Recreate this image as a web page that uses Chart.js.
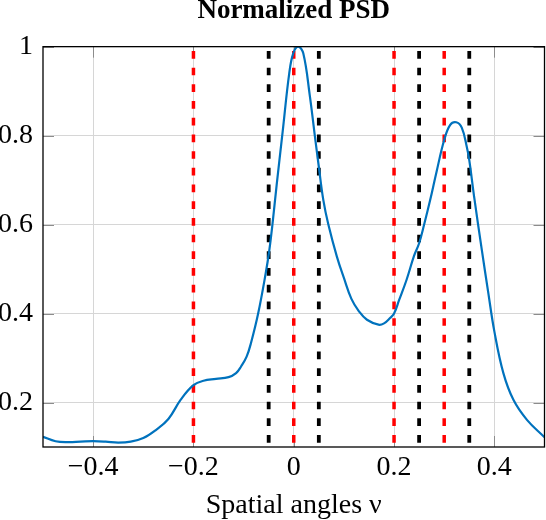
<!DOCTYPE html>
<html>
<head>
<meta charset="utf-8">
<script src="https://cdn.jsdelivr.net/npm/chart.js@4.4.1/dist/chart.umd.min.js"></script>
<style>
  html, body { margin: 0; padding: 0; background: #fff; }
  #wrap { width: 546px; height: 520px; }
</style>
</head>
<body>
<div id="wrap"><canvas id="psd"></canvas></div>
<script>
// Normalized PSD over spatial angle nu
const nu = [-0.5, -0.475, -0.45, -0.425, -0.4, -0.375, -0.35, -0.325, -0.3, -0.275, -0.25, -0.225, -0.2,
    -0.18, -0.155, -0.13, -0.115, -0.105, -0.094, -0.085, -0.071, -0.056, -0.049, -0.043,
    -0.034, -0.022, -0.009, -0.001, 0.009, 0.019, 0.032, 0.042, 0.05,
    0.059, 0.069, 0.086, 0.1, 0.115, 0.13, 0.146, 0.169, 0.18, 0.192, 0.2,
    0.21, 0.225, 0.24, 0.25, 0.26, 0.272, 0.285, 0.3,
    0.312, 0.324, 0.335, 0.345, 0.35, 0.36, 0.375, 0.388, 0.4,
    0.418, 0.438, 0.465, 0.5];
const psd = [0.123, 0.113, 0.111, 0.112, 0.113, 0.112, 0.110, 0.112, 0.120, 0.138, 0.163, 0.207, 0.239,
    0.249, 0.253, 0.257, 0.266, 0.281, 0.303, 0.335, 0.40, 0.49, 0.54, 0.595,
    0.69, 0.81, 0.94, 0.985, 1.0, 0.985, 0.89, 0.80, 0.73,
    0.655, 0.60, 0.528, 0.48, 0.433, 0.405, 0.386, 0.375, 0.378, 0.39, 0.40,
    0.43, 0.476, 0.53, 0.558, 0.60, 0.655, 0.72, 0.79,
    0.824, 0.83, 0.818, 0.775, 0.745, 0.66, 0.543, 0.446, 0.36,
    0.266, 0.206, 0.161, 0.122];

// vertical markers
const redLines = [-0.2, 0, 0.2, 0.3];
const blackLines = [-0.05, 0.05, 0.25, 0.35];

const xTicks = [-0.4, -0.2, 0, 0.2, 0.4];
const xTickLabels = ['\u22120.4', '\u22120.2', '0', '0.2', '0.4'];
const yTicks = [0.2, 0.4, 0.6, 0.8, 1];
const yTickLabels = ['0.2', '0.4', '0.6', '0.8', '1'];

const yMin = 0.1, yMax = 1;
const serif = 'Liberation Serif';

function markerSet(x, color, width) {
    return {
        data: [{ x: x, y: yMax }, { x: x, y: yMin }],
        borderColor: color,
        borderWidth: width,
        borderDash: [7.7, 9],
        borderDashOffset: 12.4,
        pointRadius: 0,
        tension: 0,
        fill: false
    };
}

// frame + small inner ticks like pgfplots
const framePlugin = {
    id: 'frame',
    beforeDatasetsDraw(chart) {
        const { ctx, chartArea: a, scales } = chart;
        ctx.save();
        ctx.strokeStyle = '#8c8c8c';
        ctx.lineWidth = 1;
        ctx.beginPath();
        xTicks.forEach(v => {
            const px = Math.round(scales.x.getPixelForValue(v)) + 0.5;
            ctx.moveTo(px, a.top); ctx.lineTo(px, a.top + 11);
            ctx.moveTo(px, a.bottom); ctx.lineTo(px, a.bottom - 11);
        });
        yTicks.forEach(v => {
            const py = Math.round(scales.y.getPixelForValue(v)) + 0.5;
            ctx.moveTo(a.left, py); ctx.lineTo(a.left + 11, py);
            ctx.moveTo(a.right, py); ctx.lineTo(a.right - 11, py);
        });
        ctx.stroke();
        ctx.restore();
    },
    afterDatasetsDraw(chart) {
        const { ctx, chartArea: a } = chart;
        ctx.save();
        ctx.strokeStyle = '#000';
        ctx.lineWidth = 1.3;
        ctx.strokeRect(a.left, a.top, a.right - a.left, a.bottom - a.top);
        ctx.restore();
    }
};

const datasets = [{
    data: nu.map((v, i) => ({ x: v, y: psd[i] })),
    borderColor: '#0072bd',
    borderWidth: 2.2,
    pointRadius: 0,
    tension: 0.4,
    fill: false
}];
redLines.forEach(x => datasets.push(markerSet(x, '#ff0000', 3.5)));
blackLines.forEach(x => datasets.push(markerSet(x, '#000000', 3.8)));

new Chart(document.getElementById('psd'), {
    type: 'line',
    data: { datasets: datasets },
    plugins: [framePlugin],
    options: {
        responsive: true,
        maintainAspectRatio: false,
        animation: false,
        layout: { padding: { top: 0, right: 1.5, bottom: 0, left: 0 } },
        plugins: {
            legend: { display: false },
            tooltip: { enabled: false },
            title: {
                display: true,
                fullSize: false,
                text: 'Normalized PSD',
                color: '#000',
                font: { family: serif, size: 27, weight: 'bold', lineHeight: 0.85 },
                padding: { top: 0, bottom: 23.7 }
            }
        },
        scales: {
            x: {
                type: 'linear',
                min: -0.5,
                max: 0.5,
                afterBuildTicks: s => { s.ticks = xTicks.map(v => ({ value: v })); },
                afterFit: s => { s.height = 73; },
                ticks: {
                    autoSkip: false,
                    maxRotation: 0,
                    color: '#000',
                    padding: 4,
                    font: { family: serif, size: 28 },
                    callback: (v, i) => xTickLabels[i]
                },
                grid: { color: '#d6d6d6', lineWidth: 1, drawTicks: false },
                border: { display: false },
                title: {
                    display: true,
                    text: 'Spatial angles \u03bd',
                    color: '#000',
                    font: { family: serif, size: 28, lineHeight: 1 },
                    padding: { top: 0, bottom: 0 }
                }
            },
            y: {
                type: 'linear',
                min: yMin,
                max: yMax,
                afterBuildTicks: s => { s.ticks = yTicks.map(v => ({ value: v })); },
                afterFit: s => { s.width = 43; },
                ticks: {
                    color: '#000',
                    padding: 10,
                    font: { family: serif, size: 28 },
                    callback: (v, i) => yTickLabels[i]
                },
                grid: { color: '#d6d6d6', lineWidth: 1, drawTicks: false },
                border: { display: false }
            }
        }
    }
});
</script>
</body>
</html>
